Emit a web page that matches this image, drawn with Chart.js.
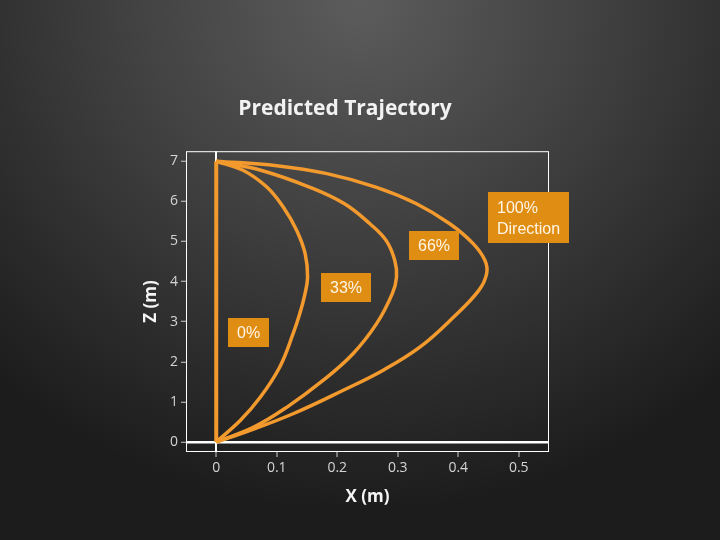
<!DOCTYPE html>
<html>
<head>
<meta charset="utf-8">
<script src="https://cdn.jsdelivr.net/npm/chart.js@4/dist/chart.umd.min.js"></script>
<style>
  html, body { margin: 0; padding: 0; }
  body {
    width: 720px; height: 540px; overflow: hidden;
    background: radial-gradient(ellipse 75% 95% at 50% 0%, #5c5c5c 0%, #404040 45%, #2c2c2c 75%, #1c1c1c 100%);
  }
  #wrap { position: relative; width: 720px; height: 540px; }
</style>
</head>
<body>
<div id="wrap"><canvas id="trajChart"></canvas></div>
<script>
// tick labels
var xTicks = [0, 0.1, 0.2, 0.3, 0.4, 0.5];
var zTicks = [0, 1, 2, 3, 4, 5, 6, 7];

// 0% : straight up
var x0 = [0, 0];
var z0 = [0, 7];
// 33%
var x33 = [0, 0.045, 0.084, 0.111, 0.133, 0.147, 0.151, 0.146, 0.138, 0.127, 0.105, 0.073, 0.040, 0];
var z33 = [7, 6.77, 6.35, 5.85, 5.27, 4.69, 4.11, 3.65, 3.20, 2.70, 1.87, 1.12, 0.54, 0];
// 66%
var x66 = [0, 0.075, 0.155, 0.212, 0.254, 0.281, 0.295, 0.298, 0.291, 0.265, 0.226, 0.177, 0.117, 0.062, 0];
var z66 = [7, 6.77, 6.35, 5.94, 5.44, 5.02, 4.53, 4.11, 3.70, 2.95, 2.20, 1.54, 0.87, 0.37, 0];
// 100%
var x100 = [0, 0.100, 0.183, 0.265, 0.331, 0.386, 0.425, 0.444, 0.447, 0.434, 0.392, 0.337, 0.276, 0.210, 0.128, 0.056, 0];
var z100 = [7, 6.89, 6.69, 6.35, 5.94, 5.44, 4.94, 4.53, 4.20, 3.78, 3.11, 2.37, 1.79, 1.29, 0.71, 0.29, 0];

var labelTexts = [["0%"], ["33%"], ["66%"], ["100%", "Direction"]];

function toPoints(xs, zs) {
  var pts = [];
  for (var i = 0; i < xs.length; i++) {
    pts.push({ x: xs[i], y: zs[i] });
  }
  return pts;
}

var lineColor = "#F39A2E";

function makeSet(xs, zs, w) {
  return {
    data: toPoints(xs, zs),
    showLine: true,
    borderColor: lineColor,
    borderWidth: w,
    pointRadius: 0,
    tension: 0.4,
    fill: false
  };
}

// box round the plot + orange tags
var boxPlugin = {
  id: "boxPlugin",
  afterDatasetsDraw: function (chart) {
    var ctx = chart.ctx;
    var a = chart.chartArea;
    ctx.save();
    ctx.strokeStyle = "#ffffff";
    ctx.lineWidth = 1;
    ctx.strokeRect(a.left + 0.5, a.top + 0.5, a.right - a.left - 1, a.bottom - a.top - 1);
    ctx.restore();
  },
  afterDraw: function (chart) {
    var ctx = chart.ctx;
    var xs = chart.scales.x, ys = chart.scales.y;
    // where each tag sits, in data units
    var anchors = [[0.054, 2.72], [0.214, 3.84], [0.36, 4.89], [0.516, 5.585]];
    ctx.save();
    ctx.font = "16px 'Liberation Sans', Arial, sans-serif";
    ctx.textBaseline = "middle";
    for (var i = 0; i < labelTexts.length; i++) {
      var lines = labelTexts[i];
      var wMax = 0;
      lines.forEach(function (t) { wMax = Math.max(wMax, ctx.measureText(t).width); });
      var bw = wMax + 18;
      var bh = lines.length == 1 ? 29 : 51;
      var cx = xs.getPixelForValue(anchors[i][0]);
      var cy = ys.getPixelForValue(anchors[i][1]);
      ctx.fillStyle = "#E08D14";
      ctx.fillRect(Math.round(cx - bw / 2), Math.round(cy - bh / 2), Math.round(bw), bh);
      ctx.fillStyle = "#FFF6E6";
      ctx.textAlign = "left";
      for (var j = 0; j < lines.length; j++) {
        var ty = cy - (lines.length - 1) * 10.5 + j * 21 + 1;
        ctx.fillText(lines[j], Math.round(cx - bw / 2 + 9), ty);
      }
    }
    ctx.restore();
  }
};

var chartId = document.getElementById("trajChart");
var trajChart = new Chart(chartId, {
  type: "scatter",
  data: {
    datasets: [
      makeSet(x0, z0, 4),
      makeSet(x33, z33, 3.5),
      makeSet(x66, z66, 3.5),
      makeSet(x100, z100, 3.5)
    ]
  },
  options: {
    responsive: true,
    maintainAspectRatio: false,
    animation: false,
    layout: { padding: { left: 141, right: 171, top: 86, bottom: 33 } },
    plugins: {
      legend: { display: false },
      tooltip: { enabled: false },
      title: {
        display: true,
        text: "Predicted Trajectory",
        color: "#f2f2f2",
        font: { family: "'Open Sans'", size: 21, weight: "bold", lineHeight: 1.2 },
        padding: { top: 10, bottom: 30 }
      }
    },
    scales: {
      x: {
        type: "linear",
        min: -0.05,
        max: 0.55,
        afterBuildTicks: function (scale) {
          scale.ticks = xTicks.map(function (v) { return { value: v }; });
        },
        afterFit: function (scale) { scale.height = 55; },
        ticks: {
          color: "#d4d4d4",
          font: { family: "'Open Sans'", size: 14 },
          padding: 3,
          maxRotation: 0,
          callback: function (v) { return String(v); }
        },
        grid: {
          drawOnChartArea: true,
          color: function (c) { return c.tick && c.tick.value === 0 ? "#ffffff" : "rgba(0,0,0,0)"; },
          lineWidth: 2,
          tickColor: "#cfcfcf",
          tickWidth: 1,
          tickLength: 5
        },
        border: { display: false },
        title: {
          display: true,
          text: "X (m)",
          color: "#f5f5f5",
          font: { family: "'Open Sans'", size: 17, weight: "bold" },
          padding: { top: 1, bottom: 0 }
        }
      },
      y: {
        type: "linear",
        min: -0.25,
        max: 7.25,
        afterBuildTicks: function (scale) {
          scale.ticks = zTicks.map(function (v) { return { value: v }; });
        },
        afterFit: function (scale) { scale.width = 45; },
        ticks: {
          color: "#d4d4d4",
          font: { family: "'Open Sans'", size: 14 },
          padding: 3,
          callback: function (v) { return String(v); }
        },
        grid: {
          drawOnChartArea: true,
          color: function (c) { return c.tick && c.tick.value === 0 ? "#ffffff" : "rgba(0,0,0,0)"; },
          lineWidth: 2.5,
          tickColor: "#cfcfcf",
          tickWidth: 1,
          tickLength: 5
        },
        border: { display: false },
        title: {
          display: true,
          text: "Z (m)",
          color: "#f5f5f5",
          font: { family: "'Open Sans'", size: 17, weight: "bold" },
          padding: { top: 0, bottom: 0 }
        }
      }
    }
  },
  plugins: [boxPlugin]
});
</script>
</body>
</html>
